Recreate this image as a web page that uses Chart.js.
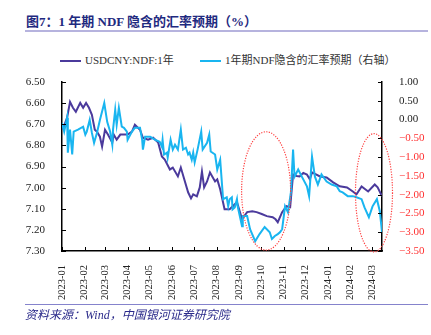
<!DOCTYPE html>
<html lang="zh">
<head>
<meta charset="utf-8">
<script src="https://cdn.jsdelivr.net/npm/chart.js@4.4.1/dist/chart.umd.min.js"></script>
<style>
  html, body { margin: 0; padding: 0; background: #fff; }
  body { width: 431px; height: 335px; position: relative; overflow: hidden;
         font-family: "Liberation Serif", "Noto Sans CJK SC", serif; }
  #title { position: absolute; left: 26px; top: 11px; font-size: 13px; font-weight: bold;
           color: #1f2a80; white-space: nowrap; }
  .rule { position: absolute; left: 25px; width: 403px; }
  #ruleTop { top: 30px; height: 2px; background: #b6b3de; }
  #ruleBottom { top: 304px; height: 1px; background: #8583cc; }
  #source { position: absolute; left: 25px; top: 305px; font-size: 12px; font-style: italic;
            color: #2a2a8a; white-space: nowrap; }
  .legend { position: absolute; top: 51px; font-size: 11px; color: #333; white-space: nowrap; }
  .swatch { display: inline-block; width: 21px; height: 2px; vertical-align: middle; margin-right: 4px; }
  #chartBox { position: absolute; left: 0; top: 0; width: 431px; height: 335px; }
</style>
</head>
<body>
<div id="title">图7：1 年期 NDF 隐含的汇率预期（%）</div>
<div class="rule" id="ruleTop"></div>
<div class="legend" style="left:60px"><span class="swatch" style="background:#4b3a9c"></span>USDCNY:NDF:1年</div>
<div class="legend" style="left:200px"><span class="swatch" style="background:#19b5f0"></span>1年期NDF隐含的汇率预期（右轴）</div>
<div id="chartBox"><canvas id="ndfChart"></canvas></div>
<div class="rule" id="ruleBottom"></div>
<div id="source">资料来源：Wind，中国银河证券研究院</div>

<script>
// x values are days counted from 2023-01-01
const monthLabels = ['2023-01', '2023-02', '2023-03', '2023-04', '2023-05', '2023-06', '2023-07',
  '2023-08', '2023-09', '2023-10', '2023-11', '2023-12', '2024-01', '2024-02', '2024-03'];

const usdcnyDays = [1, 7, 11, 15, 19, 25, 29, 33, 37, 41, 45, 48, 52, 55, 59, 63, 69, 71, 75, 80,
  86, 90, 96, 100, 107, 111, 118, 125, 132, 137, 141, 148, 152, 159, 163, 167, 173, 177, 180, 185,
  189, 192, 195, 199, 203, 210, 213, 217, 223, 230, 240, 247, 254, 261, 267, 274, 281, 289, 293, 296,
  302, 308, 313, 317, 322, 326, 331, 336, 340, 343, 354, 363, 372, 381, 391, 399, 404, 411, 420, 429,
  433, 439];
const usdcnyRate = [6.726, 6.669, 6.594, 6.622, 6.641, 6.599, 6.622, 6.599, 6.622, 6.655, 6.726, 6.735, 6.759, 6.806, 6.726, 6.749, 6.787, 6.749, 6.773, 6.749,
  6.749, 6.749, 6.735, 6.702, 6.726, 6.764, 6.773, 6.764, 6.787, 6.853, 6.867, 6.914, 6.905, 6.947, 6.905, 6.952, 7.022, 7.051, 7.032, 7.041,
  6.999, 6.924, 6.999, 6.971, 6.928, 6.971, 6.961, 7.008, 7.102, 7.102, 7.069, 7.149, 7.116, 7.112, 7.116, 7.125, 7.135, 7.140, 7.150, 7.164,
  7.116, 7.088, 7.093, 6.938, 6.945, 6.947, 6.930, 6.938, 6.961, 6.928, 6.947, 6.952, 6.975, 6.994, 6.999, 7.018, 7.032, 6.994, 7.018, 6.985,
  6.999, 7.041];

const impliedDays = [0, 3, 7, 8, 11, 14, 16, 22, 29, 32, 34, 38, 41, 44, 48, 52, 58, 62, 66, 69,
  70, 73, 75, 78, 82, 85, 89, 90, 96, 100, 107, 110, 111, 114, 121, 128, 134, 137, 138, 140,
  144, 145, 149, 152, 155, 159, 163, 166, 170, 173, 175, 178, 180, 182, 186, 191, 193, 199, 202, 204,
  210, 213, 217, 221, 226, 228, 230, 233, 234, 237, 240, 241, 247, 248, 254, 258, 265, 271, 278, 285,
  288, 292, 296, 299, 302, 306, 310, 314, 317, 319, 324, 329, 336, 339, 343, 347, 351, 356, 363, 370,
  377, 381, 385, 392, 399, 404, 411, 415, 421, 426, 432, 436, 439];
const impliedExpect = [-0.09, -0.32, 0.05, -0.88, -0.27, -0.93, -0.32, -0.27, -0.19, -0.40, -0.32, -0.01, -0.35, -0.62, -0.35, -0.01, 0.44, -0.06, -0.32, -0.67,
  -0.27, 0.26, -0.14, 0.31, -0.19, -0.22, -0.32, -0.54, -0.32, -0.22, -0.22, -0.54, -0.80, -0.46, -0.46, -0.54, -0.59, -0.72, -0.54, -0.93,
  -0.88, -1.01, -0.54, -0.80, -0.67, -0.80, -0.27, -0.80, -0.75, -0.93, -0.88, -1.07, -0.88, -1.14, -0.80, -0.32, -0.80, -0.62, -0.40, -0.85,
  -0.93, -1.33, -1.07, -2.12, -2.07, -2.31, -2.12, -2.07, -2.39, -2.34, -2.12, -2.31, -2.84, -2.57, -2.57, -2.92, -3.24, -3.05, -2.86, -3.00,
  -3.18, -3.10, -3.05, -3.00, -2.92, -2.31, -2.47, -1.94, -0.80, -1.52, -1.33, -1.52, -1.78, -2.04, -0.99, -1.52, -1.73, -1.46, -1.65, -1.73,
  -1.78, -1.91, -1.94, -2.04, -2.04, -2.07, -2.12, -2.34, -2.60, -2.31, -2.12, -2.44, -3.00];

const dayOf = (s) => {
  const [y, m] = s.split('-').map(Number);
  return (Date.UTC(y, m - 1, 1) - Date.UTC(2023, 0, 1)) / 864e5;
};
const monthStarts = monthLabels.map(dayOf);
const toPoints = (xs, ys) => xs.map((x, i) => ({ x: x, y: ys[i] }));

const fmt = (v) => (v < 0 ? '\u2212' : '') + Math.abs(v).toFixed(2);
const tickFont = { family: '"Liberation Serif", serif', size: 11 };

// red dotted rings around the two stretches where the gap opens up
const rings = [
  { day: 280, value: -1.90, dayRadius: 33.6, valueRadius: 1.575 },
  { day: 428, value: -1.95, dayRadius: 25.4, valueRadius: 1.575 }
];

const axisDecor = {
  id: 'axisDecor',
  afterDatasetsDraw(chart) {
    const { ctx, chartArea: a, scales } = chart;
    const x = scales.x, yL = scales.yL, yR = scales.yR;
    ctx.save();
    ctx.strokeStyle = '#000';
    ctx.lineWidth = 1;
    ctx.beginPath();
    x.ticks.forEach(t => {
      const px = Math.round(x.getPixelForValue(t.value)) + 0.5;
      ctx.moveTo(px, a.bottom); ctx.lineTo(px, a.bottom - 4);
    });
    yL.ticks.forEach(t => {
      const py = Math.round(yL.getPixelForValue(t.value)) + 0.5;
      ctx.moveTo(a.left, py); ctx.lineTo(a.left + 4, py);
    });
    yR.ticks.forEach(t => {
      const py = Math.round(yR.getPixelForValue(t.value)) + 0.5;
      ctx.moveTo(a.right, py); ctx.lineTo(a.right - 4, py);
    });
    ctx.stroke();

    ctx.strokeStyle = '#ff4040';
    ctx.lineWidth = 1.2;
    ctx.setLineDash([1.2, 1.4]);
    rings.forEach(r => {
      const cx = x.getPixelForValue(r.day), cy = yR.getPixelForValue(r.value);
      const rx = Math.abs(x.getPixelForValue(r.day + r.dayRadius) - cx);
      const ry = Math.abs(yR.getPixelForValue(r.value + r.valueRadius) - cy);
      ctx.beginPath();
      ctx.ellipse(cx, cy, rx, ry, 0, 0, Math.PI * 2);
      ctx.stroke();
    });
    ctx.restore();
  }
};

new Chart(document.getElementById('ndfChart'), {
  type: 'line',
  data: {
    datasets: [
      {
        label: 'USDCNY:NDF:1年',
        data: toPoints(usdcnyDays, usdcnyRate),
        yAxisID: 'yL',
        borderColor: '#4b3a9c',
        borderWidth: 2,
        pointRadius: 0,
        tension: 0,
        order: 1
      },
      {
        label: '1年期NDF隐含的汇率预期（右轴）',
        data: toPoints(impliedDays, impliedExpect),
        yAxisID: 'yR',
        borderColor: '#19b5f0',
        borderWidth: 2,
        pointRadius: 0,
        tension: 0,
        order: 0
      }
    ]
  },
  options: {
    responsive: true,
    maintainAspectRatio: false,
    animation: false,
    events: [],
    layout: { padding: { top: 82, bottom: 34, left: 0, right: 0 } },
    plugins: { legend: { display: false }, tooltip: { enabled: false } },
    scales: {
      x: {
        type: 'linear',
        min: 0,
        max: 439,
        grid: { display: false },
        border: { color: '#000', width: 1.5 },
        afterBuildTicks: (scale) => { scale.ticks = monthStarts.map(v => ({ value: v })); },
        afterFit: (scale) => { scale.height = 50; },
        ticks: {
          autoSkip: false,
          minRotation: 90,
          maxRotation: 90,
          padding: 6,
          color: '#222',
          font: { family: '"Liberation Serif", serif', size: 10.5 },
          callback: (v, i) => monthLabels[i]
        }
      },
      yL: {
        position: 'left',
        reverse: true,
        min: 6.5,
        max: 7.3,
        grid: { display: false },
        border: { color: '#000', width: 1.5 },
        afterFit: (scale) => { scale.width = 62; },
        ticks: { stepSize: 0.1, padding: 9, color: '#222', font: tickFont, callback: (v) => v.toFixed(2) }
      },
      yR: {
        position: 'right',
        min: -3.5,
        max: 1,
        grid: { display: false },
        border: { color: '#000', width: 1.5 },
        afterFit: (scale) => { scale.width = 49; },
        ticks: {
          stepSize: 0.5,
          padding: 9,
          font: tickFont,
          color: (c) => (c.tick && c.tick.value < 0 ? '#ff3030' : '#222'),
          callback: fmt
        }
      }
    }
  },
  plugins: [axisDecor]
});
</script>
</body>
</html>
